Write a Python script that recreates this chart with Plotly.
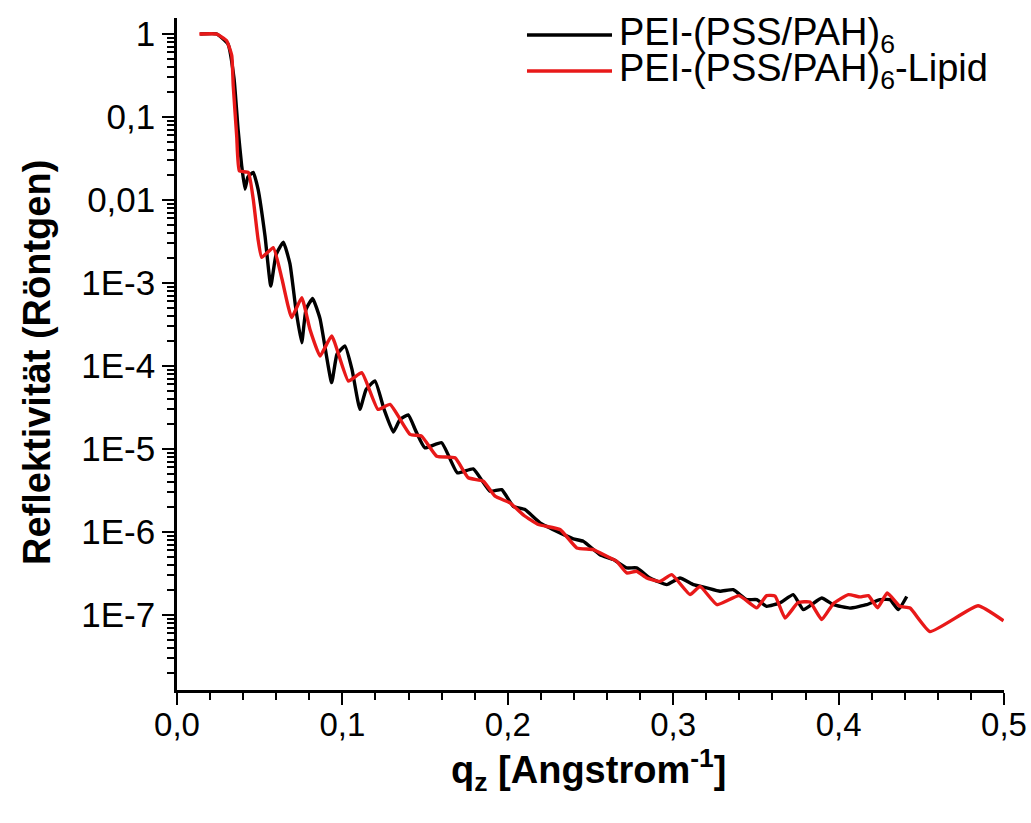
import plotly.graph_objects as go

# X-ray reflectivity curves, q_z in 1/Angstrom, reflectivity (linear)
series_names = ["PEI-(PSS/PAH)<sub>6</sub>", "PEI-(PSS/PAH)<sub>6</sub>-Lipid"]
series_colors = ["#000000", "#e81919"]

q_film = [0.014, 0.024, 0.0308, 0.0345, 0.0369, 0.0391, 0.0411, 0.0429, 0.0461, 0.049,
          0.0532, 0.0567, 0.0599, 0.0643, 0.0683, 0.0719, 0.0754, 0.078, 0.082, 0.0865,
          0.0935, 0.0967, 0.1016, 0.1058, 0.1106, 0.1143, 0.1197, 0.1252, 0.1308, 0.1348,
          0.1398, 0.1445, 0.1499, 0.160, 0.1695, 0.1791, 0.1892, 0.1963, 0.2033, 0.2104,
          0.2195, 0.2316, 0.2396, 0.2456, 0.2557, 0.2638, 0.2719, 0.2779, 0.2860, 0.2961,
          0.3041, 0.3122, 0.3203, 0.3283, 0.3363, 0.3444, 0.3505, 0.3565, 0.3646, 0.3726,
          0.3787, 0.3898, 0.3968, 0.4069, 0.4170, 0.4250, 0.4311, 0.4361, 0.4412]
r_film = [1.0, 1.0, 0.76, 0.29, 0.072, 0.026, 0.0135, 0.019, 0.0215, 0.0135,
          0.0037, 0.00092, 0.0022, 0.0031, 0.0017, 0.00048, 0.00019, 0.00048, 0.00065, 0.00037,
          6.3e-5, 1.38e-4, 1.74e-4, 9.1e-5, 3.0e-5, 5.2e-5, 6.6e-5, 3.0e-5, 1.6e-5, 2.27e-5,
          2.57e-5, 1.63e-5, 1.03e-5, 1.19e-5, 5.16e-6, 5.75e-6, 3.10e-6, 3.24e-6, 2.04e-6, 1.86e-6,
          1.29e-6, 9.75e-7, 8.26e-7, 7.73e-7, 5.33e-7, 4.65e-7, 3.69e-7, 3.69e-7, 2.79e-7, 2.32e-7,
          2.79e-7, 2.32e-7, 2.12e-7, 1.93e-7, 2.02e-7, 1.53e-7, 1.53e-7, 1.27e-7, 1.40e-7, 1.76e-7,
          1.16e-7, 1.60e-7, 1.33e-7, 1.21e-7, 1.33e-7, 1.53e-7, 1.53e-7, 1.16e-7, 1.67e-7]

q_lipid = [0.0135, 0.024, 0.030, 0.0331, 0.0340, 0.0361, 0.0377, 0.0431, 0.0461, 0.049,
           0.0512, 0.0582, 0.0635, 0.0693, 0.0754, 0.0804, 0.0865, 0.0935, 0.1036, 0.1117,
           0.1215, 0.1288, 0.1409, 0.1479, 0.1570, 0.1681, 0.1761, 0.1852, 0.1923, 0.2013,
           0.2098, 0.2184, 0.2316, 0.2417, 0.2517, 0.2598, 0.2658, 0.2719, 0.2779, 0.2840,
           0.2920, 0.2991, 0.3102, 0.3162, 0.3265, 0.3398, 0.3505, 0.3565, 0.3616, 0.3676,
           0.3755, 0.3827, 0.3898, 0.3968, 0.4059, 0.4129, 0.4180, 0.4236, 0.4294, 0.4371,
           0.4432, 0.4553, 0.4843, 0.4997]
r_lipid = [1.0, 1.0, 0.83, 0.55, 0.238, 0.059, 0.0224, 0.0215, 0.0102, 0.00337,
           0.00204, 0.00267, 0.00111, 0.000383, 0.000667, 0.000276, 0.000132, 0.00023, 6.58e-5, 8.30e-5,
           3.0e-5, 3.44e-5, 1.50e-5, 1.43e-5, 8.18e-6, 7.83e-6, 4.50e-6, 4.09e-6, 2.70e-6, 2.24e-6,
           1.58e-6, 1.23e-6, 1.07e-6, 6.43e-7, 6.14e-7, 5.09e-7, 4.44e-7, 3.21e-7, 3.36e-7, 2.79e-7,
           2.54e-7, 3.06e-7, 1.76e-7, 2.21e-7, 1.33e-7, 1.71e-7, 1.22e-7, 1.71e-7, 1.69e-7, 9.2e-8,
           1.41e-7, 1.43e-7, 8.8e-8, 1.37e-7, 1.76e-7, 1.65e-7, 1.71e-7, 1.22e-7, 1.84e-7, 1.27e-7,
           1.21e-7, 6.3e-8, 1.29e-7, 8.5e-8]

# Tick labels and axis titles
x_tick_vals = [0.0, 0.1, 0.2, 0.3, 0.4, 0.5]
y_decades = [-7, -6, -5, -4, -3, -2, -1, 0]
y_tick_text = ["1E-7", "1E-6", "1E-5", "1E-4", "1E-3", "0,01", "0,1", "1"]
x_title = "<b>q<sub>z</sub> [Angstrom<sup>-1</sup>]</b>"
y_title = "<b>Reflektivität (Röntgen)</b>"

FONT = "Liberation Sans, Arial, sans-serif"

fig = go.Figure()
for q, r, name, color in zip([q_film, q_lipid], [r_film, r_lipid], series_names, series_colors):
    fig.add_trace(go.Scatter(x=q, y=r, mode="lines", name=name,
                             line=dict(color=color, width=3.4, shape="spline", smoothing=0.4),
                             showlegend=False))

y_tick_vals = [10.0 ** d for d in y_decades]
y_minor_vals = [k * 10.0 ** d for d in y_decades[:-1] + [-8] for k in range(2, 10)]

fig.update_layout(
    width=1031, height=823,
    margin=dict(l=177, r=27, t=18, b=133),
    paper_bgcolor="white", plot_bgcolor="white",
    separators=",.",
    font=dict(family=FONT, color="black"),
    xaxis=dict(
        range=[0, 0.5], tickvals=x_tick_vals, tickformat=".1f", automargin=False,
        showline=True, linecolor="black", linewidth=2.5,
        ticks="outside", ticklen=12, tickwidth=2, tickcolor="black",
        ticklabelstandoff=-8,
        minor=dict(dtick=0.02, tick0=0, ticks="outside", ticklen=7, tickwidth=2, tickcolor="black"),
        showgrid=False, zeroline=False,
        tickfont=dict(size=33, family=FONT),
    ),
    yaxis=dict(
        type="log", range=[-7.904, 0.193], automargin=False,
        tickvals=y_tick_vals, ticktext=y_tick_text,
        showline=True, linecolor="black", linewidth=2.5,
        ticks="outside", ticklen=12, tickwidth=2, tickcolor="black",
        minor=dict(tickvals=y_minor_vals, ticks="outside", ticklen=7, tickwidth=2, tickcolor="black"),
        showgrid=False, zeroline=False,
        tickfont=dict(size=35, family=FONT),
    ),
)

# Axis titles
fig.add_annotation(xref="paper", yref="paper", x=0.497, y=-0.119, showarrow=False,
                   xanchor="center", yanchor="middle", text=x_title,
                   font=dict(size=38, family=FONT, color="black"))
fig.add_annotation(xref="paper", yref="paper", x=-0.1693, y=0.488, showarrow=False,
                   xanchor="center", yanchor="middle", textangle=-90, text=y_title,
                   font=dict(size=38, family=FONT, color="black"))

# Legend drawn as line samples plus labels in the upper right
legend_rows = [0.9747, 0.9211]
for name, color, yp in zip(series_names, series_colors, legend_rows):
    fig.add_shape(type="line", xref="paper", yref="paper",
                  x0=0.4232, x1=0.5260, y0=yp, y1=yp,
                  line=dict(color=color, width=3.4))
    fig.add_annotation(xref="paper", yref="paper", x=0.532, y=yp,
                       xanchor="left", yanchor="middle", showarrow=False,
                       text=name, font=dict(size=38, family=FONT, color="black"))

fig.write_html("out.html")
